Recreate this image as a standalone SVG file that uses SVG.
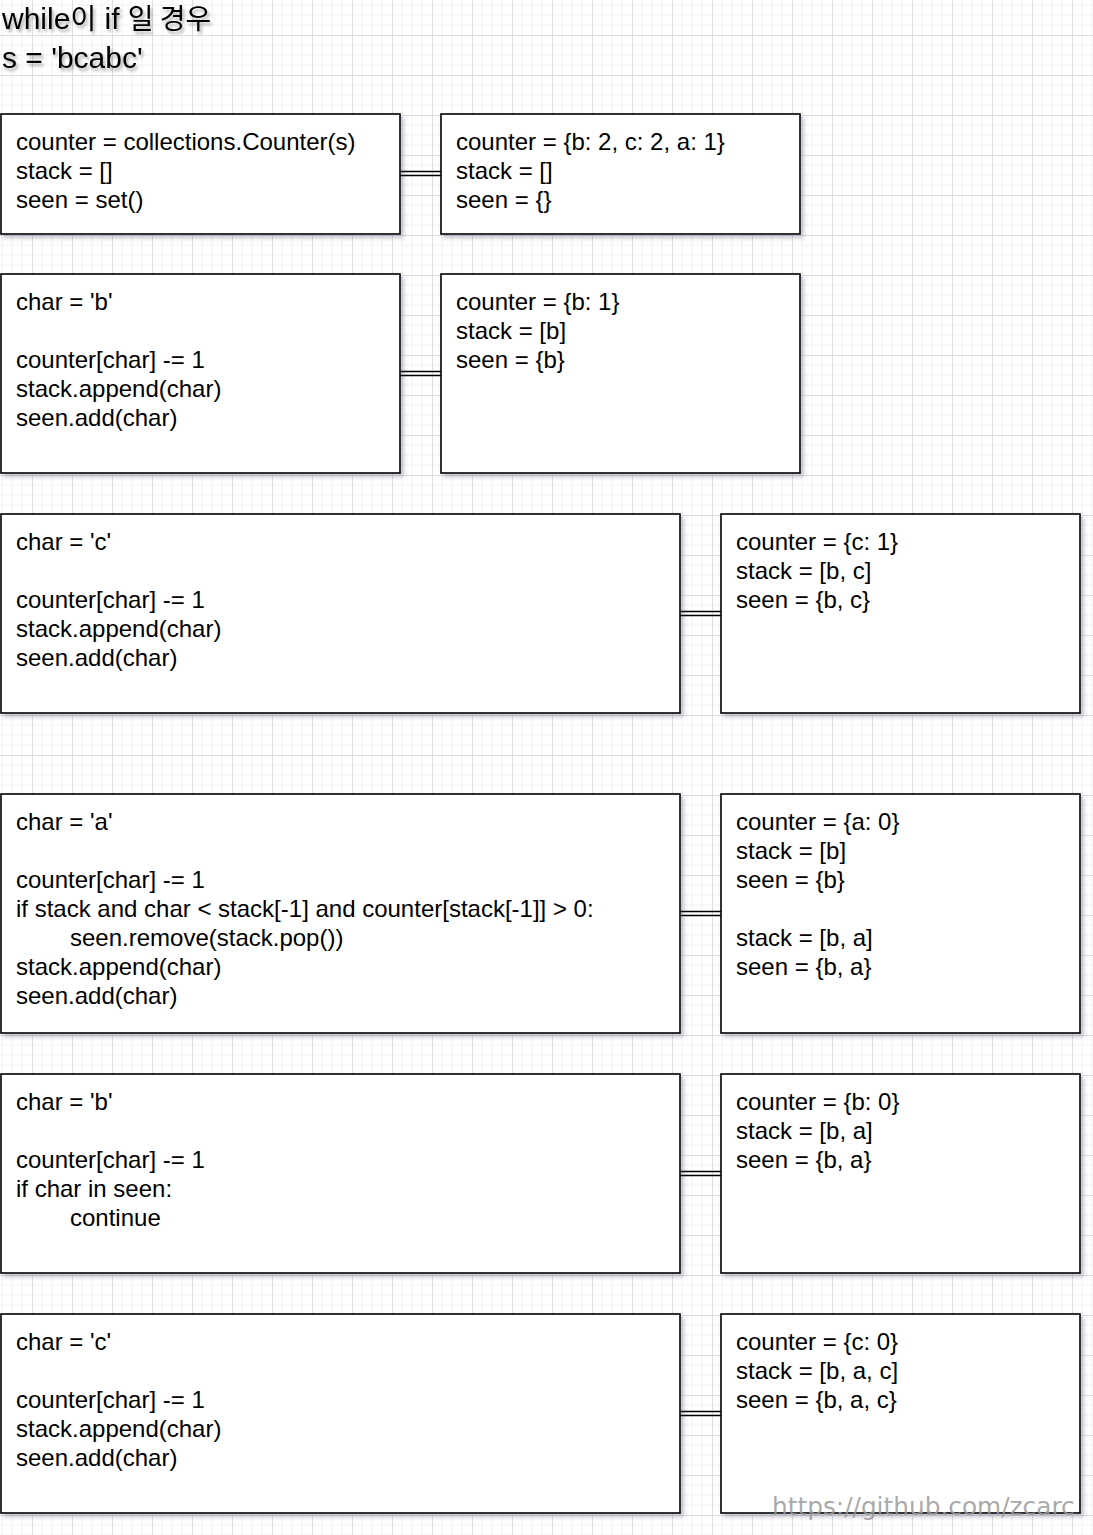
<svg xmlns="http://www.w3.org/2000/svg" width="1093" height="1535" viewBox="0 0 1093 1535">
  <defs>
    <pattern id="grid" patternUnits="userSpaceOnUse" x="32" y="35" width="40" height="40">
      <path d="M10 0V40M20 0V40M30 0V40M0 10H40M0 20H40M0 30H40" stroke="#f1f1f1" stroke-width="1" fill="none"/>
      <path d="M0.5 0V40M0 0.5H40" stroke="#dedede" stroke-width="1" fill="none"/>
    </pattern>
    <filter id="shadow" x="-5%" y="-5%" width="115%" height="120%">
      <feDropShadow dx="3" dy="3" stdDeviation="2" flood-color="#3a3a60" flood-opacity="0.3"/>
    </filter>
    <filter id="tshadow" x="-5%" y="-20%" width="115%" height="150%">
      <feDropShadow dx="2" dy="3" stdDeviation="1.5" flood-color="#000" flood-opacity="0.3"/>
    </filter>
  </defs>
  <style>
    .box { fill: #ffffff; stroke: #000000; stroke-width: 1.6; filter: url(#shadow); }
    .t { font-family: "Liberation Sans", Arial, Helvetica, sans-serif; font-size: 24px; fill: #000000; }
    .title { font-family: "Liberation Sans", Arial, "Noto Sans CJK KR", sans-serif; font-size: 30px; fill: #000000; filter: url(#tshadow); }
    .link { stroke: #000000; stroke-width: 1.4; fill: none; }
    .wm { font-family: "DejaVu Sans", sans-serif; font-size: 24.8px; fill: #9a9a9a; fill-opacity: 0.85; }
  </style>
  <rect x="0" y="0" width="1093" height="1535" fill="#ffffff"/>
  <rect x="0" y="0" width="1093" height="1535" fill="url(#grid)"/>

  <g id="title">
    <text class="title" x="2" y="29">while<tspan font-family="'Noto Sans CJK KR', sans-serif" font-size="28px">이</tspan> if <tspan font-family="'Noto Sans CJK KR', sans-serif" font-size="28px">일 경우</tspan></text>
    <text class="title" x="2" y="68">s = 'bcabc'</text>
  </g>

  <g id="connectors">
    <path class="link" d="M400 171.5H441M400 175.5H441"/>
    <path class="link" d="M400 371.5H441M400 375.5H441"/>
    <path class="link" d="M680 611.5H721M680 615.5H721"/>
    <path class="link" d="M680 911.5H721M680 915.5H721"/>
    <path class="link" d="M680 1171.5H721M680 1175.5H721"/>
    <path class="link" d="M680 1411.5H721M680 1415.5H721"/>
  </g>

  <g id="n1">
    <rect class="box" x="1" y="114" width="399" height="120"/>
    <text class="t" x="16" y="150">counter = collections.Counter(s)</text>
    <text class="t" x="16" y="179">stack = []</text>
    <text class="t" x="16" y="208">seen = set()</text>
  </g>
  <g id="n1r">
    <rect class="box" x="441" y="114" width="359" height="120"/>
    <text class="t" x="456" y="150">counter = {b: 2, c: 2, a: 1}</text>
    <text class="t" x="456" y="179">stack = []</text>
    <text class="t" x="456" y="208">seen = {}</text>
  </g>

  <g id="n2">
    <rect class="box" x="1" y="274" width="399" height="199"/>
    <text class="t" x="16" y="310">char = 'b'</text>
    <text class="t" x="16" y="368">counter[char] -= 1</text>
    <text class="t" x="16" y="397">stack.append(char)</text>
    <text class="t" x="16" y="426">seen.add(char)</text>
  </g>
  <g id="n2r">
    <rect class="box" x="441" y="274" width="359" height="199"/>
    <text class="t" x="456" y="310">counter = {b: 1}</text>
    <text class="t" x="456" y="339">stack = [b]</text>
    <text class="t" x="456" y="368">seen = {b}</text>
  </g>

  <g id="n3">
    <rect class="box" x="1" y="514" width="679" height="199"/>
    <text class="t" x="16" y="550">char = 'c'</text>
    <text class="t" x="16" y="608">counter[char] -= 1</text>
    <text class="t" x="16" y="637">stack.append(char)</text>
    <text class="t" x="16" y="666">seen.add(char)</text>
  </g>
  <g id="n3r">
    <rect class="box" x="721" y="514" width="359" height="199"/>
    <text class="t" x="736" y="550">counter = {c: 1}</text>
    <text class="t" x="736" y="579">stack = [b, c]</text>
    <text class="t" x="736" y="608">seen = {b, c}</text>
  </g>

  <g id="n4">
    <rect class="box" x="1" y="794" width="679" height="239"/>
    <text class="t" x="16" y="830">char = 'a'</text>
    <text class="t" x="16" y="888">counter[char] -= 1</text>
    <text class="t" x="16" y="917">if stack and char &lt; stack[-1] and counter[stack[-1]] &gt; 0:</text>
    <text class="t" x="70" y="946">seen.remove(stack.pop())</text>
    <text class="t" x="16" y="975">stack.append(char)</text>
    <text class="t" x="16" y="1004">seen.add(char)</text>
  </g>
  <g id="n4r">
    <rect class="box" x="721" y="794" width="359" height="239"/>
    <text class="t" x="736" y="830">counter = {a: 0}</text>
    <text class="t" x="736" y="859">stack = [b]</text>
    <text class="t" x="736" y="888">seen = {b}</text>
    <text class="t" x="736" y="946">stack = [b, a]</text>
    <text class="t" x="736" y="975">seen = {b, a}</text>
  </g>

  <g id="n5">
    <rect class="box" x="1" y="1074" width="679" height="199"/>
    <text class="t" x="16" y="1110">char = 'b'</text>
    <text class="t" x="16" y="1168">counter[char] -= 1</text>
    <text class="t" x="16" y="1197">if char in seen:</text>
    <text class="t" x="70" y="1226">continue</text>
  </g>
  <g id="n5r">
    <rect class="box" x="721" y="1074" width="359" height="199"/>
    <text class="t" x="736" y="1110">counter = {b: 0}</text>
    <text class="t" x="736" y="1139">stack = [b, a]</text>
    <text class="t" x="736" y="1168">seen = {b, a}</text>
  </g>

  <g id="n6">
    <rect class="box" x="1" y="1314" width="679" height="199"/>
    <text class="t" x="16" y="1350">char = 'c'</text>
    <text class="t" x="16" y="1408">counter[char] -= 1</text>
    <text class="t" x="16" y="1437">stack.append(char)</text>
    <text class="t" x="16" y="1466">seen.add(char)</text>
  </g>
  <g id="n6r">
    <rect class="box" x="721" y="1314" width="359" height="199"/>
    <text class="t" x="736" y="1350">counter = {c: 0}</text>
    <text class="t" x="736" y="1379">stack = [b, a, c]</text>
    <text class="t" x="736" y="1408">seen = {b, a, c}</text>
  </g>

  <text class="wm" x="772" y="1515">https://github.com/zcarc</text>
</svg>
